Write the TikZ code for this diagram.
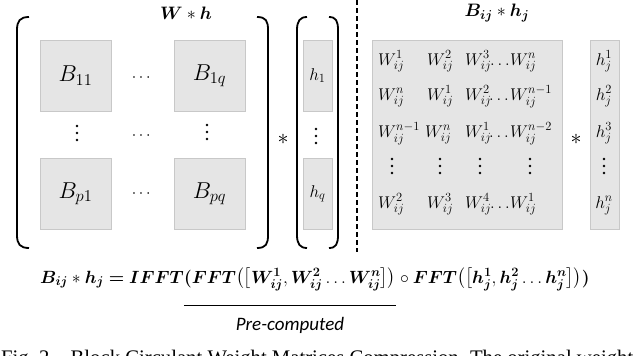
\RequirePackage{fix-cm}
\documentclass[tikz,border=0pt]{standalone}
\usepackage{amsmath,bm}
\usepackage{fontspec}
\newfontfamily\prefont{Carlito}
\newfontfamily\capfont{Liberation Serif}
\usetikzlibrary{calc}
\definecolor{boxfill}{RGB}{229,229,229}
\definecolor{boxline}{RGB}{200,200,200}
\DeclareMathSizes{23}{23}{16.5}{12}
\DeclareMathSizes{18}{18}{13}{10}
\DeclareMathSizes{17.7}{17.7}{12.8}{9.8}
\DeclareMathSizes{17}{17}{12.5}{9.5}
\begin{document}
\begin{tikzpicture}[x=1pt,y=-1pt,
  cell/.style={draw=boxline, fill=boxfill, line width=0.8pt, inner sep=0pt},
  bigbox/.style={cell, minimum width=71pt, minimum height=71pt, font=\fontsize{23}{27}\selectfont},
  hbox/.style={cell, minimum width=29pt, minimum height=71pt, font=\fontsize{17}{20}\selectfont},
  brk/.style={line width=1.8pt},
  ttl/.style={inner sep=0pt, font=\fontsize{18}{21}\selectfont},
  dt/.style={inner sep=0pt, font=\fontsize{16}{19}\selectfont},
  star/.style={inner sep=0pt, font=\fontsize{22}{26}\selectfont},
  ent/.style={anchor=base west, inner sep=0pt, font=\fontsize{17}{20}\selectfont},
  hent/.style={anchor=base, inner sep=0pt, font=\fontsize{17}{20}\selectfont},
  fml/.style={anchor=base west, inner sep=0pt, font=\fontsize{17.7}{22}\selectfont},
  vdt/.pic={\fill (0,-7) circle (1.4pt); \fill (0,0) circle (1.4pt); \fill (0,7) circle (1.4pt);}
]
\clip (0,0) rectangle (640,356);
\fill[white] (0,0) rectangle (640,356);

% ---- left: W * h ----
\node[ttl] (t1) at (186,13) {$\bm{W} * \bm{h}$};

\draw[brk] (29,17) .. controls (20,17) and (17,21) .. (17,30) -- (17,235) .. controls (17,244) and (20,248) .. (29,248);
\draw[brk] (257,17) .. controls (266,17) and (268,21) .. (268,30) -- (268,235) .. controls (268,244) and (266,248) .. (257,248);

\node[bigbox] (b11) at (75.5,75.5) {$B_{11}$};
\node[bigbox] (b1q) at (209.5,75.5) {$B_{1q}$};
\node[bigbox] (bp1) at (75.5,194) {$B_{p1}$};
\node[bigbox] (bpq) at (209.5,194) {$B_{pq}$};
\node[dt] (d1) at (142.5,78) {$\cdots$};
\node[dt] (d2) at (142.5,136) {$\cdots$};
\node[dt] (d3) at (142.5,194) {$\cdots$};
\pic at (77,133) {vdt};
\pic at (207,132) {vdt};

\node[star] (s1) at (283,139) {$*$};

\draw[brk] (307,17) .. controls (300,17) and (297,21) .. (297,30) -- (297,235) .. controls (297,244) and (300,248) .. (307,248);
\draw[brk] (329,17) .. controls (336,17) and (338,21) .. (338,30) -- (338,235) .. controls (338,244) and (336,248) .. (329,248);
\node[hbox] (h1) at (317.5,75.5) {$h_1$};
\node[hbox] (hq) at (317.5,194) {$h_q$};
\pic at (316,136) {vdt};

% ---- separator ----
\draw[dash pattern=on 5pt off 3pt, line width=1.5pt] (357,0) -- (357,252);

% ---- right: B_ij * h_j ----
\node[ttl] (t2) at (497,13) {$\bm{B_{ij}} * \bm{h_j}$};
\node[cell, minimum width=190pt, minimum height=189pt] (wm) at (467,134.5) {};
\node[cell, minimum width=29pt, minimum height=189pt] (hm) at (604.5,134.5) {};
\node[star] (s2) at (576,139) {$*$};

% row 1
\node[ent] (r1a) at (378,65) {$W^{1}_{ij}$};
\node[ent] (r1b) at (427,65) {$W^{2}_{ij}$};
\node[ent] (r1c) at (465,65) {$W^{3}_{ij}$};
\node[hent] (r1d) at (500,65) {$\ldots$};
\node[ent] (r1e) at (510,65) {$W^{n}_{ij}$};
% row 2
\node[ent] (r2a) at (378,100) {$W^{n}_{ij}$};
\node[ent] (r2b) at (427,100) {$W^{1}_{ij}$};
\node[ent] (r2c) at (465,100) {$W^{2}_{ij}$};
\node[hent] (r2d) at (499,100) {$\ldots$};
\node[ent] (r2e) at (510,100) {$W^{n-1}_{ij}$};
% row 3
\node[ent] (r3a) at (378,137) {$W^{n-1}_{ij}$};
\node[ent] (r3b) at (425,137) {$W^{n}_{ij}$};
\node[ent] (r3c) at (465,137) {$W^{1}_{ij}$};
\node[hent] (r3d) at (499,137) {$\ldots$};
\node[ent] (r3e) at (510,137) {$W^{n-2}_{ij}$};
% row 4 (dots)
\pic at (392,166) {vdt};
\pic at (440,166) {vdt};
\pic at (480,166) {vdt};
\pic at (530,166) {vdt};
% row 5
\node[ent] (r5a) at (378,208) {$W^{2}_{ij}$};
\node[ent] (r5b) at (427,208) {$W^{3}_{ij}$};
\node[ent] (r5c) at (465,208) {$W^{4}_{ij}$};
\node[hent] (r5d) at (500,208) {$\ldots$};
\node[ent] (r5e) at (510,208) {$W^{1}_{ij}$};

% h_j column
\node[hent] (hj1) at (604,65) {$h^{1}_{j}$};
\node[hent] (hj2) at (604,100) {$h^{2}_{j}$};
\node[hent] (hj3) at (604,137) {$h^{3}_{j}$};
\pic at (604,166) {vdt};
\node[hent] (hjn) at (604,208) {$h^{n}_{j}$};

% ---- formula ----
\node[fml] (fa) at (40,283) {$\bm{B_{ij}} * \bm{h_j} \bm{=} \bm{IFFT}$};
\node[fml] (fp) at (fa.base east) {$\bm{(}\bm{FFT}\bigl(\bigl[\bm{W^{1}_{ij}}, \bm{W^{2}_{ij}} \ldots \bm{W^{n}_{ij}}\bigr]\bigr)$};
\node[fml] (fc) at (fp.base east) {${}\circ \bm{FFT}\bigl(\bigl[\bm{h^{1}_{j}}, \bm{h^{2}_{j}} \ldots \bm{h^{n}_{j}}\bigr]\bigr)\bm{)}$};
\coordinate (ul1) at ($(fp.base west)+(0,22)$);
\coordinate (ul2) at ($(fp.base east)+(0,22)$);
\draw[line width=1pt] (ul1) -- (ul2);
\node[anchor=base, inner sep=0pt, font=\prefont\itshape\fontsize{19}{23}\selectfont] (pc) at ($(fp.base)+(0,47)$) {Pre-computed};

% ---- caption (cut off) ----
\node[anchor=base west, inner sep=0pt, font=\capfont\fontsize{20.7}{24}\selectfont] (cap) at (1,364)
  {Fig.~2.\hspace{16pt}Block Circulant Weight Matrices Compression.\hspace{6pt}The original weight};
\end{tikzpicture}
\end{document}
